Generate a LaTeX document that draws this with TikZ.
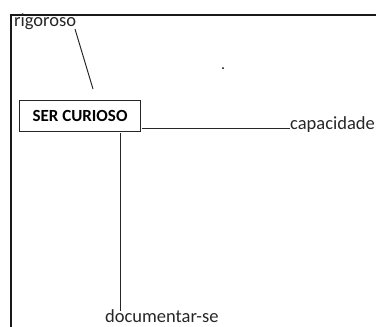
\documentclass[tikz,border=0pt]{standalone}
\usepackage{fontspec}
\setmainfont{Carlito}
\begin{document}
\begin{tikzpicture}[x=1pt,y=-1pt,
  lbl/.style={inner sep=0pt,text=black!85,font=\fontsize{18.5}{21}\selectfont},
  mainbox/.style={draw=black!85,line width=1.3pt,inner sep=0pt,minimum width=121pt,minimum height=31pt,font=\bfseries\fontsize{17}{19}\selectfont},
  conn/.style={draw=black!85,line width=1pt},
  frame/.style={draw=black!90,line width=2pt}]
\useasboundingbox (0,0) rectangle (376,327);
\draw[frame] (11,327) -- (11,15) -- (376,15);
\node[lbl,anchor=base west] (rig) at (14,26) {rigoroso};
\node[mainbox] (ser) at (80,116) {SER CURIOSO};
\node[lbl,anchor=base west] (cap) at (290,129) {capacidade};
\node[lbl,anchor=base west] (doc) at (105,322) {documentar-se};
\coordinate (r1) at (75,29);
\coordinate (r2) at (93,89);
\coordinate (c1) at (142,128);
\coordinate (d1) at (120,133);
\coordinate (d2) at (120,311);
\draw[conn] (r1) -- (r2);
\draw[conn] (c1) -- (c1 -| cap.west);
\draw[conn] (d1) -- (d2);
\fill[black] (223,68) circle (1pt);
\end{tikzpicture}
\end{document}
